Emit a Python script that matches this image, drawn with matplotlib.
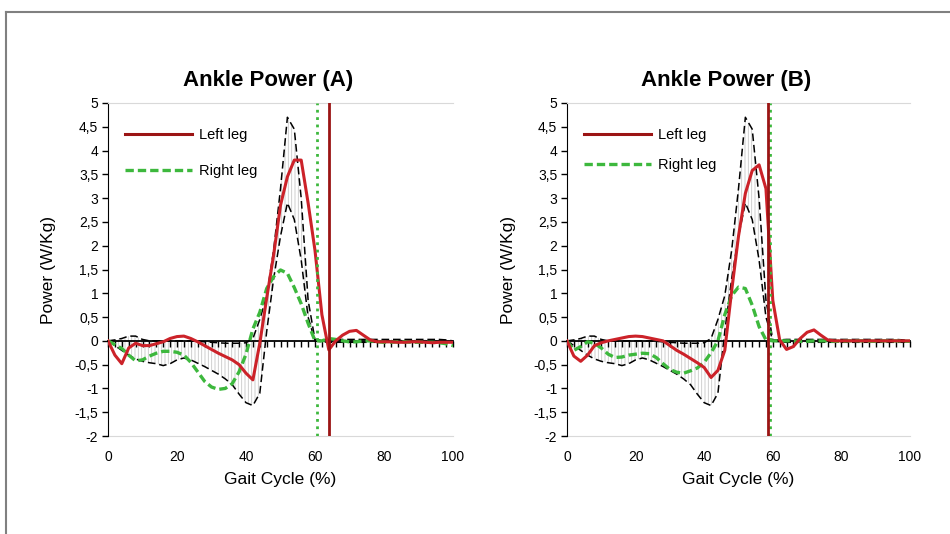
import numpy as np
import matplotlib.pyplot as plt
from matplotlib.lines import Line2D
from matplotlib.ticker import MultipleLocator

plt.rcParams['font.family'] = ['Liberation Sans', 'DejaVu Sans']
plt.rcParams['hatch.linewidth'] = 0.6

# gait cycle (%) sampled every 2 %
gait = list(range(0, 101, 2))

# normal band (mean +/- SD), same in both panels
norm_upper = [0.0, 0.02, 0.05, 0.1, 0.1, 0.03, 0.0, 0.0, 0.0, 0.0,
              0.0, 0.0, 0.0, -0.01, -0.02, -0.03, -0.04, -0.05, -0.05, -0.05,
              -0.04, 0.05, 0.45, 0.95, 1.9, 3.2, 4.7, 4.45, 3.0, 0.86,
              0.02, 0.02, 0.03, 0.03, 0.03, 0.03, 0.03, 0.03, 0.03, 0.03,
              0.03, 0.03, 0.03, 0.03, 0.03, 0.03, 0.03, 0.03, 0.03, 0.02, 0.0]
norm_lower = [0.0, -0.1, -0.2, -0.3, -0.38, -0.43, -0.46, -0.48, -0.52, -0.48,
              -0.4, -0.36, -0.4, -0.47, -0.54, -0.62, -0.7, -0.8, -0.92, -1.12,
              -1.3, -1.36, -1.1, 0.2, 1.3, 2.2, 2.9, 2.55, 1.7, 0.5,
              0.0, -0.02, -0.03, -0.03, -0.03, -0.03, -0.03, -0.03, -0.03, -0.03,
              -0.03, -0.03, -0.03, -0.03, -0.03, -0.03, -0.03, -0.03, -0.03, -0.03, -0.02]

# panel A
left_a = [0.0, -0.3, -0.48, -0.15, -0.05, -0.1, -0.1, -0.06, -0.02, 0.05,
          0.09, 0.1, 0.05, -0.02, -0.1, -0.18, -0.26, -0.33, -0.4, -0.5,
          -0.68, -0.82, -0.05, 0.9, 1.8, 2.85, 3.45, 3.8, 3.8, 2.9,
          1.9, 0.55, -0.19, 0.0, 0.12, 0.2, 0.22, 0.12, 0.02, -0.02,
          -0.02, -0.02, -0.03, -0.03, -0.02, -0.02, -0.03, -0.04, -0.03, -0.03, -0.03]
right_a = [0.0, -0.08, -0.16, -0.3, -0.42, -0.4, -0.32, -0.26, -0.22, -0.22,
           -0.24, -0.3, -0.45, -0.65, -0.85, -0.97, -1.02, -1.0, -0.9, -0.65,
           -0.28, 0.25, 0.6, 1.1, 1.35, 1.49, 1.42, 1.12, 0.78, 0.37,
           0.0, 0.0, 0.05, 0.03, 0.0, -0.02, -0.02, 0.0, 0.0, -0.02,
           -0.03, -0.03, -0.02, -0.02, -0.03, -0.03, -0.03, -0.03, -0.04, -0.06, -0.1]
left_off_a = 64.1
right_off_a = 60.6

# panel B
left_b = [0.0, -0.32, -0.43, -0.3, -0.1, -0.04, 0.0, 0.03, 0.06, 0.09,
          0.1, 0.09, 0.06, 0.03, 0.0, -0.1, -0.2, -0.28, -0.37, -0.46,
          -0.56, -0.77, -0.62, -0.2, 1.05, 2.2, 3.1, 3.58, 3.7, 3.2,
          0.85, 0.02, -0.18, -0.12, 0.05, 0.18, 0.23, 0.12, 0.02, 0.0,
          0.0, 0.0, 0.0, 0.0, 0.0, 0.0, 0.0, 0.0, 0.0, 0.0, 0.0]
right_b = [0.0, -0.2, -0.12, -0.02, -0.05, -0.15, -0.28, -0.35, -0.34, -0.3,
           -0.28, -0.26, -0.27, -0.35, -0.48, -0.6, -0.66, -0.68, -0.63, -0.57,
           -0.45, -0.25, 0.0, 0.55, 0.95, 1.13, 1.1, 0.75, 0.3, 0.02,
           0.0, 0.0, 0.0, 0.0, -0.01, -0.01, 0.0, 0.0, 0.0, -0.01,
           -0.01, 0.0, 0.0, 0.0, -0.01, -0.01, 0.0, 0.0, 0.0, -0.01, -0.01]
left_off_b = 58.5
right_off_b = 59.1

y_ticks = np.arange(-2, 5.01, 0.5)
y_labels = [f"{v:g}".replace('.', ',') for v in y_ticks]
x_ticks = [0, 20, 40, 60, 80, 100]

red = '#cc2229'
dark_red = '#9b1414'
green = '#3db83d'


def draw_panel(ax, left, right, left_off, right_off, title, row_gap):
    ax.fill_between(gait, norm_lower, norm_upper, facecolor='none',
                    edgecolor='#c8c8c8', hatch='|||||', linewidth=0, zorder=1)
    ax.plot(gait, norm_upper, color='black', lw=1.1, dashes=(5, 2.5), zorder=2)
    ax.plot(gait, norm_lower, color='black', lw=1.1, dashes=(5, 2.5), zorder=2)
    ax.plot(gait, right, color=green, lw=2.4, dashes=(2.5, 1.2), zorder=4)
    ax.plot(gait, left, color=red, lw=2.2, zorder=5)
    ax.axvline(right_off, color=green, lw=2, ls=':', zorder=6)
    ax.axvline(left_off, color=dark_red, lw=2, zorder=6)

    ax.set_xlim(0, 100)
    ax.set_ylim(-2, 5)
    ax.set_yticks(y_ticks)
    ax.set_yticklabels(y_labels)
    ax.tick_params(axis='y', direction='out', length=4, width=1, pad=3, labelsize=10)

    # x axis drawn along y = 0 with small ticks, labels kept at the bottom
    ax.spines['bottom'].set_position(('data', 0))
    ax.spines['bottom'].set_linewidth(1.3)
    ax.spines['bottom'].set_zorder(3)
    ax.xaxis.set_major_locator(MultipleLocator(2))
    ax.tick_params(axis='x', direction='out', length=4, width=1, labelbottom=False)
    ax.spines['top'].set_color('#d9d9d9')
    ax.spines['right'].set_visible(False)

    sec = ax.secondary_xaxis('bottom')
    sec.set_xticks(x_ticks)
    sec.tick_params(length=0, pad=10, labelsize=10)
    sec.spines['bottom'].set_color('#d9d9d9')
    sec.set_xlabel('Gait Cycle (%)', fontsize=12.5, labelpad=6)

    ax.set_ylabel('Power (W/Kg)', fontsize=12.5)
    ax.yaxis.set_label_coords(-0.15, 0.5)
    ax.set_title(title, fontsize=16, fontweight='bold', pad=12, x=0.465)

    handles = [Line2D([], [], color=dark_red, lw=2.2),
               Line2D([], [], color=green, lw=2.4, dashes=(2.5, 1.2))]
    ax.legend(handles, ['Left leg', 'Right leg'], loc='upper left',
              bbox_to_anchor=(0.01, 0.965), frameon=False, fontsize=10.5,
              handlelength=4.6, handletextpad=0.5, labelspacing=row_gap)


fig = plt.figure(figsize=(9.5, 5.34), dpi=100)
ax_a = fig.add_axes([108 / 950, 1 - 436 / 534, 345 / 950, 333 / 534])
ax_b = fig.add_axes([567 / 950, 1 - 436 / 534, 343 / 950, 333 / 534])

draw_panel(ax_a, left_a, right_a, left_off_a, right_off_a, 'Ankle Power (A)', 1.5)
draw_panel(ax_b, left_b, right_b, left_off_b, right_off_b, 'Ankle Power (B)', 1.1)

# outer frame (top and left edges)
fig.add_artist(Line2D([6 / 950, 1.0], [1 - 12 / 534] * 2, transform=fig.transFigure,
                      color='#808080', lw=1.5))
fig.add_artist(Line2D([6 / 950] * 2, [0, 1 - 12 / 534], transform=fig.transFigure,
                      color='#808080', lw=1.5))

fig.savefig('out.png', dpi=100)
